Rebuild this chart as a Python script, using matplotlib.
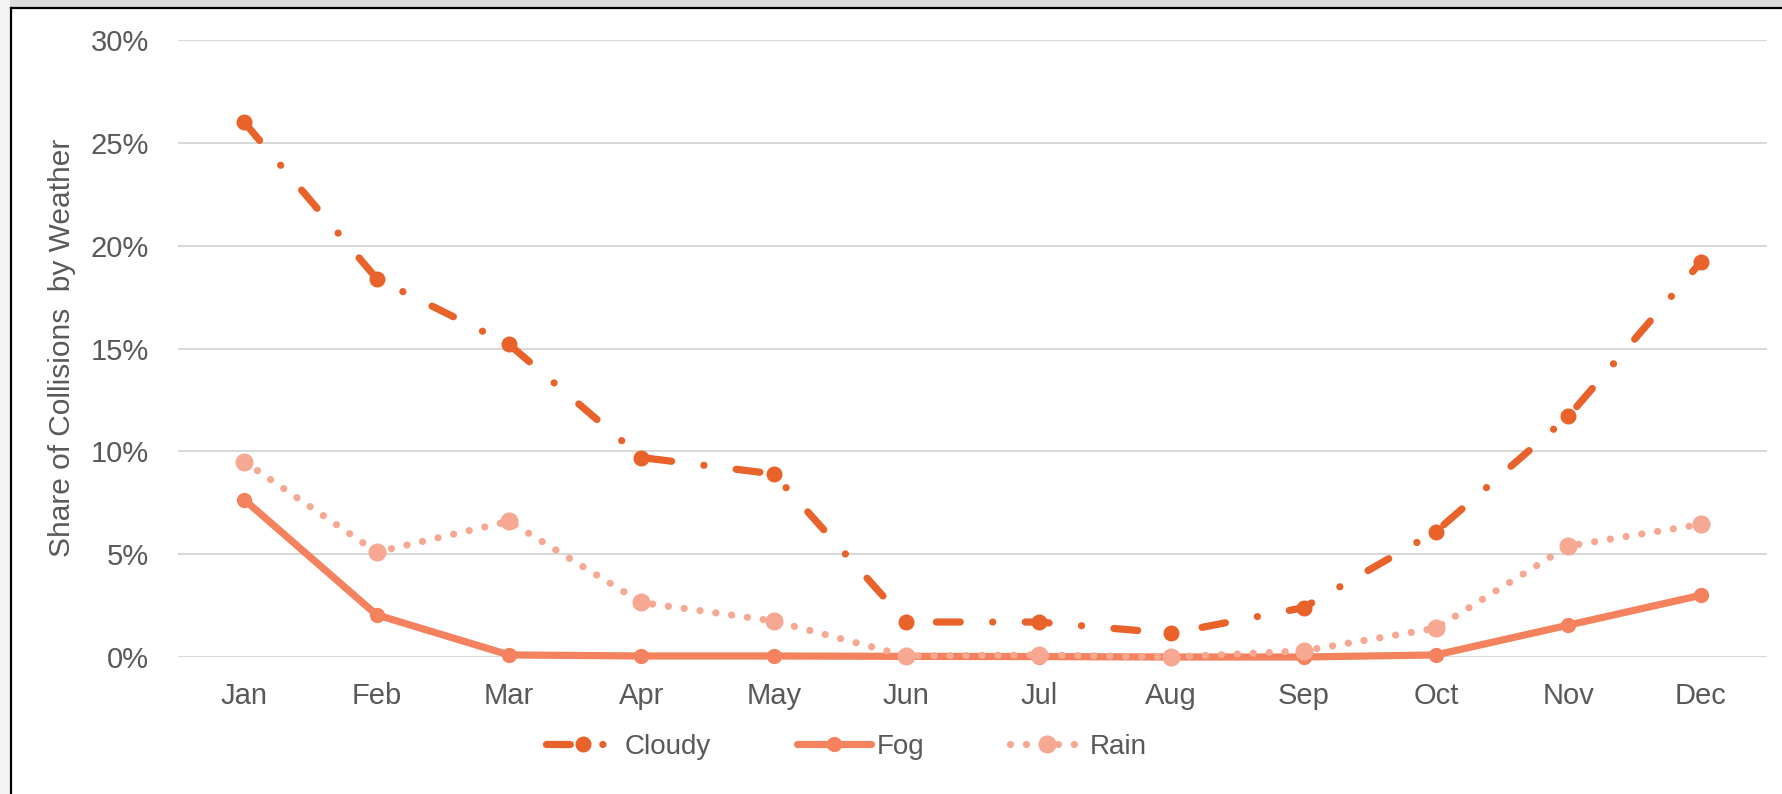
import matplotlib.pyplot as plt
from matplotlib.patches import Rectangle
from matplotlib.lines import Line2D
from matplotlib.ticker import FuncFormatter

months = ['Jan', 'Feb', 'Mar', 'Apr', 'May', 'Jun',
          'Jul', 'Aug', 'Sep', 'Oct', 'Nov', 'Dec']
cloudy = [26.0, 18.4, 15.2, 9.7, 8.9, 1.7, 1.7, 1.15, 2.4, 6.1, 11.7, 19.2]
fog = [7.65, 2.05, 0.1, 0.05, 0.05, 0.03, 0.02, 0.0, 0.0, 0.1, 1.55, 3.0]
rain = [9.5, 5.1, 6.6, 2.65, 1.75, 0.05, 0.1, 0.0, 0.3, 1.4, 5.4, 6.45]

grey = '#595959'
plt.rcParams['font.family'] = ['Liberation Sans', 'DejaVu Sans']

fig = plt.figure(figsize=(17.83, 7.94), dpi=100)
W, H = 1783, 794
ax = fig.add_axes([178 / W, 1 - 657 / H, (1767 - 178) / W, (657 - 40) / H])

x = list(range(len(months)))
ax.plot(x, cloudy, color='#E8622A', lw=5.2, marker='o', ms=10.5,
        linestyle=(0, (3.3, 4.5, 0.01, 4.5)), dash_capstyle='round',
        clip_on=False, zorder=3, label='Cloudy')
ax.plot(x, fog, color='#F4825F', lw=5.2, marker='o', ms=10,
        solid_capstyle='round', clip_on=False, zorder=3, label='Fog')
ax.plot(x, rain, color='#F6A892', lw=5.2, marker='o', ms=12,
        linestyle=(0, (0.01, 2.2)), dash_capstyle='round',
        clip_on=False, zorder=3, label='Rain')

ax.set_xlim(-0.5, 11.5)
ax.set_ylim(0, 30)
ax.set_yticks([0, 5, 10, 15, 20, 25, 30])
ax.yaxis.set_major_formatter(FuncFormatter(lambda v, p: f'{v:.0f}%'))
ax.set_xticks(x)
ax.set_xticklabels(months)
ax.grid(axis='y', color='#D9D9D9', lw=1.5)
ax.set_axisbelow(True)
for s in ax.spines.values():
    s.set_visible(False)
ax.tick_params(axis='both', length=0, labelsize=21, labelcolor=grey)
ax.tick_params(axis='y', pad=21)
ax.tick_params(axis='x', pad=18)

fig.text(62 / W, 1 - 348 / H, 'Share of Collisions  by Weather', rotation=90,
         ha='center', va='center', fontsize=21.5, color=grey)

leg = fig.legend(loc='center', bbox_to_anchor=(846 / W, 1 - 747 / H), ncol=3,
                 frameon=False, handlelength=2.65, handletextpad=0.2,
                 columnspacing=3.1, prop={'size': 20})
for t in leg.get_texts():
    t.set_color(grey)

# window frame around the chart
fig.patches.append(Rectangle((0, 1 - 7 / H), 1, 7 / H, transform=fig.transFigure,
                             facecolor='#DCDCDC', edgecolor='none', zorder=-5))
fig.patches.append(Rectangle((0, 0), 10 / W, 1, transform=fig.transFigure,
                             facecolor='#F4F4F4', edgecolor='none', zorder=-5))
fig.lines.append(Line2D([10.5 / W, 1], [1 - 8 / H, 1 - 8 / H], transform=fig.transFigure,
                        color='black', lw=1.6))
fig.lines.append(Line2D([11 / W, 11 / W], [0, 1 - 8 / H], transform=fig.transFigure,
                        color='black', lw=1.6))

fig.savefig('out.png', dpi=100)
